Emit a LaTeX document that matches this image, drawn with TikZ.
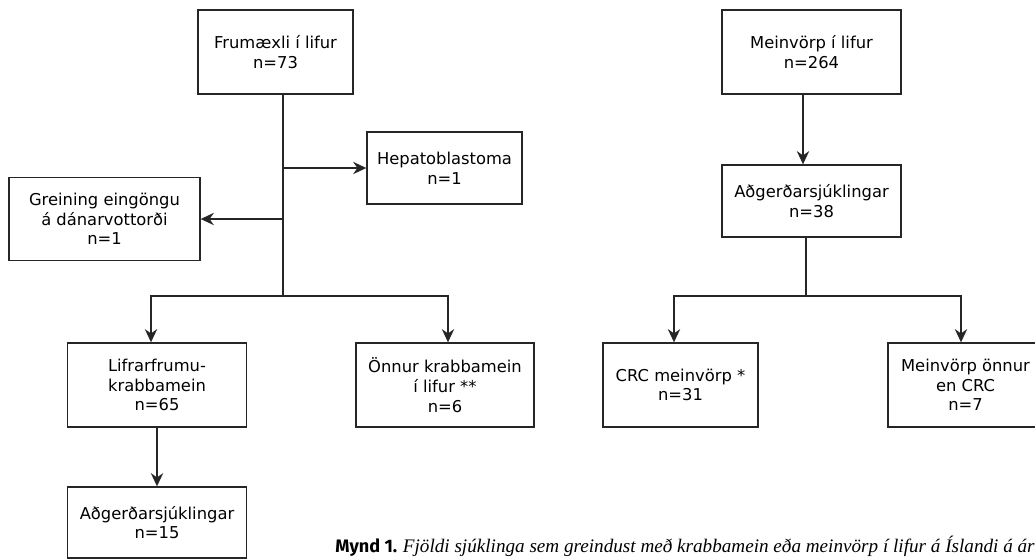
\documentclass[tikz,border=0pt]{standalone}
\usepackage{fontspec}
\setmainfont{DejaVu Sans}
\newfontfamily\capsans{Fira Sans}
\newfontfamily\capserif{Liberation Serif}
\usetikzlibrary{arrows.meta}

\begin{document}
\begin{tikzpicture}[x=0.02cm, y=-0.02cm,
    box/.style={draw=black!85, line width=0.8pt, align=center, inner sep=2pt, font=\fontsize{9.3}{11.2}\selectfont},
    arr/.style={draw=black!85, line width=0.8pt, -{Stealth[length=7.5pt, width=7pt]}},
    ln/.style={draw=black!85, line width=0.8pt}]
    \clip (0,0) rectangle (1035,559);

    % Left tree: primary tumours
    \node[box, minimum width=3.1cm, minimum height=1.68cm] (frum) at (275.5,52) {Frumæxli í lifur\\n=73};
    \node[box, minimum width=3.1cm, minimum height=1.44cm] (hepa) at (444.5,168) {Hepatoblastoma\\n=1};
    \node[box, minimum width=3.82cm, minimum height=1.66cm] (grein) at (104.5,219) {Greining eingöngu\\á dánarvottorði\\n=1};
    \node[box, minimum width=3.58cm, minimum height=1.68cm] (lifr) at (157,385) {Lifrarfrumu-\\krabbamein\\n=65};
    \node[box, minimum width=3.56cm, minimum height=1.68cm] (onnur) at (445,385) {Önnur krabbamein\\í lifur **\\n=6};
    \node[box, minimum width=3.58cm, minimum height=1.42cm] (adg1) at (157,522.5) {Aðgerðarsjúklingar\\n=15};
    \coordinate (j1) at (283,296);

    \draw[ln] (frum.south -| j1) -- (j1);
    \draw[arr] (hepa.west -| j1) -- (hepa.west);
    \draw[arr] (grein.east -| j1) -- (grein.east);
    \draw[arr] (j1) -| ([xshift=-0.12cm]lifr.north);
    \draw[arr] (j1) -| ([xshift=0.06cm]onnur.north);
    \draw[arr] (lifr.south) -- (adg1.north);

    % Right tree: metastases
    \node[box, minimum width=3.58cm, minimum height=1.68cm] (mein) at (811.5,52) {Meinvörp í lifur\\n=264};
    \node[box, minimum width=3.58cm, minimum height=1.44cm] (adg2) at (811.5,201) {Aðgerðarsjúklingar\\n=38};
    \node[box, minimum width=3.1cm, minimum height=1.68cm] (crc) at (680.5,385) {CRC meinvörp *\\n=31};
    \node[box, minimum width=3.1cm, minimum height=1.68cm] (meinon) at (965.5,385) {Meinvörp önnur\\en CRC\\n=7};
    \coordinate (j2) at (806,296);

    \draw[arr] ([xshift=-0.17cm]mein.south) -- ([xshift=-0.17cm]adg2.north);
    \draw[ln] (adg2.south -| j2) -- (j2);
    \draw[arr] (j2) -| ([xshift=-0.13cm]crc.north);
    \draw[arr] (j2) -| ([xshift=-0.09cm]meinon.north);

    % Caption, cut off at the right edge as in the page
    \node[anchor=base west, inner sep=0pt] (cap) at (335,552)
        {{\capsans\bfseries\fontsize{10.3}{12}\selectfont Mynd 1.}\hspace{0.32em}{\capserif\itshape\fontsize{10.9}{12}\selectfont Fjöldi sjúklinga sem greindust með krabbamein eða meinvörp í lifur á Íslandi á árunum}};
\end{tikzpicture}
\end{document}
